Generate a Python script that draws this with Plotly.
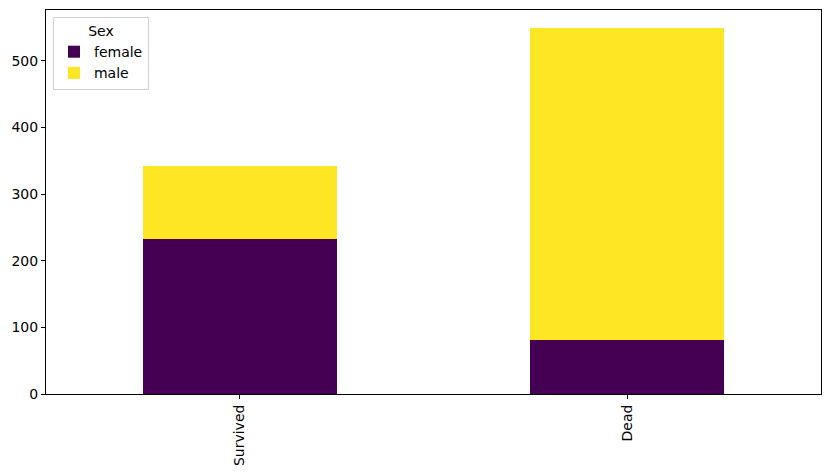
import plotly.graph_objects as go

categories = ["Survived", "Dead"]
female = [233, 81]
male = [109, 468]
tick_vals = [0, 100, 200, 300, 400, 500]

fig = go.Figure()
fig.add_trace(go.Bar(x=categories, y=female, name="female", marker=dict(color="#440154", line=dict(width=0))))
fig.add_trace(go.Bar(x=categories, y=male, name="male", marker=dict(color="#fde725", line=dict(width=0))))

fig.update_layout(
    barmode="stack",
    bargap=0.5,
    width=823, height=467,
    margin=dict(l=38, r=10, t=2, b=81, autoexpand=False),
    plot_bgcolor="white", paper_bgcolor="white",
    font=dict(family="DejaVu Sans", size=14, color="black"),
    showlegend=True,
    legend=dict(
        title=dict(text="Sex", side="top center", font=dict(size=14)),
        x=0.009, y=0.982, xanchor="left", yanchor="top",
        bgcolor="rgba(255,255,255,0.8)", bordercolor="#d0d0d0", borderwidth=1,
        traceorder="normal", font=dict(size=14),
        itemsizing="constant",
    ),
    xaxis=dict(
        showline=True, linecolor="black", linewidth=1, mirror=True,
        ticks="outside", ticklen=4, tickcolor="black", tickangle=-90,
        showgrid=False, range=[-0.5, 1.5],
    ),
    yaxis=dict(
        showline=True, linecolor="black", linewidth=1, mirror=True,
        ticks="outside", ticklen=4, tickcolor="black",
        tickvals=tick_vals, showgrid=False, zeroline=False,
        range=[0, 576.45],
    ),
)

fig.write_html("out.html")
